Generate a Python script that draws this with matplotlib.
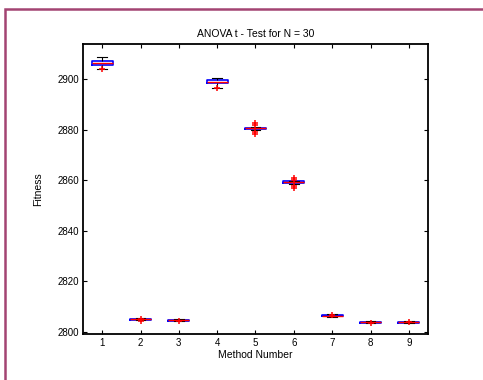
import numpy as np
import matplotlib.pyplot as plt
from matplotlib.patches import Rectangle

plt.rcParams['font.family'] = ['Liberation Sans', 'DejaVu Sans']

# box statistics, one entry per method
methods = [1, 2, 3, 4, 5, 6, 7, 8, 9]
q1 = [2905.6, 2804.8, 2804.4, 2898.4, 2880.2, 2858.9, 2806.3, 2803.6, 2803.6]
med = [2906.4, 2805.0, 2804.6, 2899.0, 2880.6, 2859.3, 2806.5, 2803.8, 2803.8]
q3 = [2907.2, 2805.2, 2804.8, 2899.6, 2880.9, 2859.6, 2806.7, 2804.0, 2804.0]
wlo = [2904.3, 2804.6, 2804.2, 2896.7, 2879.8, 2858.6, 2806.1, 2803.4, 2803.4]
whi = [2908.7, 2805.5, 2805.0, 2900.7, 2881.3, 2859.9, 2807.0, 2804.2, 2804.2]
fliers = [
    [2904.0],
    [2804.2, 2805.3],
    [2804.3],
    [2896.5],
    [2882.6, 2881.8, 2879.3, 2878.4],
    [2861.0, 2860.2, 2857.9, 2856.8],
    [2806.8],
    [2803.6],
    [2803.9],
]

stats = []
for i in range(len(methods)):
    stats.append({'med': med[i], 'q1': q1[i], 'q3': q3[i],
                  'whislo': wlo[i], 'whishi': whi[i], 'fliers': fliers[i]})

fig = plt.figure(figsize=(4.83, 3.80), dpi=100)
fig.patch.set_facecolor('white')
fig.patches.append(Rectangle((5 / 483, -0.5), 2.0, 0.5 + (380 - 9) / 380,
                             transform=fig.transFigure, fill=False,
                             edgecolor='#a34472', linewidth=1.8))

ax = fig.add_axes([83 / 483, (380 - 334) / 380, 345 / 483, 290 / 380])
ax.bxp(stats, positions=methods, widths=0.55,
       boxprops=dict(color='blue', linewidth=1.2),
       medianprops=dict(color='red', linewidth=1.0),
       whiskerprops=dict(color='black', linestyle='--', linewidth=0.8),
       capprops=dict(color='black', linewidth=0.8),
       capwidths=0.25,
       flierprops=dict(marker='+', markeredgecolor='red', markersize=5,
                       markeredgewidth=1.1))

ax.set_xlim(0.5, 9.5)
ax.set_ylim(2799.2, 2914)
ax.set_xticks(methods)
ax.set_xticklabels([str(m) for m in methods])
ax.set_yticks([2800, 2820, 2840, 2860, 2880, 2900])
ax.tick_params(direction='in', top=True, right=True, labelsize=7, length=3,
               width=0.8, pad=3)
for s in ax.spines.values():
    s.set_linewidth(1.3)

ax.set_title('ANOVA t - Test for N = 30', fontsize=7.5, pad=5)
ax.set_xlabel('Method Number', fontsize=7.5, labelpad=1)
ax.set_ylabel('Fitness', fontsize=7.5, labelpad=10)

fig.savefig('out.png', dpi=100)
